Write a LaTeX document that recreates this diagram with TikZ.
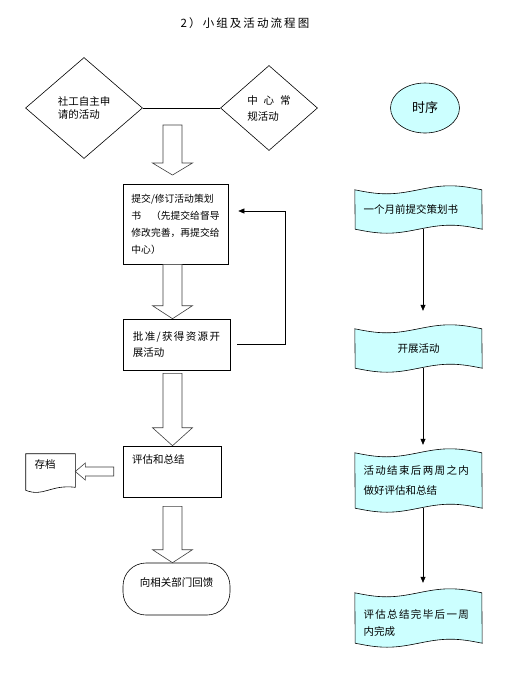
\documentclass[tikz,border=0pt]{standalone}
\usepackage{fontspec}
\setmainfont{Noto Sans CJK SC}
\newfontfamily\spacedfont[LetterSpace=13]{Noto Sans CJK SC}
\newfontfamily\titlefont[LetterSpace=18]{Noto Sans CJK SC}
\usepackage{tikz}
\usetikzlibrary{shapes.geometric,arrows.meta,positioning,calc,backgrounds}
\definecolor{tapecyan}{RGB}{204,255,255}

\tikzset{
    box/.style={draw, line width=0.6pt, inner sep=0pt, align=left,
        font=\fontsize{10.5}{16}\selectfont},
    choice/.style={draw, diamond, line width=0.6pt, inner sep=0pt, align=left},
    tapebox/.style={inner sep=0pt, minimum width=127pt,
        font=\fontsize{10.5}{17}\selectfont},
    tapeline/.style={draw, fill=tapecyan, line width=0.6pt},
    blockline/.style={draw=black!75, line width=0.6pt, fill=white},
    timearrow/.style={-{Triangle[length=6pt,width=5pt]}, line width=0.6pt},
}

% hollow block arrow pointing down: start, tip, head length
\newcommand\downblock[3]{%
    \draw[blockline] let \p1=#1, \p2=#2 in
        (\x1-9.5pt,\y1) -- (\x1+9.5pt,\y1) -- (\x1+9.5pt,\y2+#3) -- (\x1+20pt,\y2+#3)
        -- (\x1,\y2) -- (\x1-20pt,\y2+#3) -- (\x1-9.5pt,\y2+#3) -- cycle;}
% hollow block arrow pointing left: start, tip
\newcommand\leftblock[2]{%
    \draw[blockline] let \p1=#1, \p2=#2 in
        (\x1,\y1+4.5pt) -- (\x2+10pt,\y1+4.5pt) -- (\x2+10pt,\y1+8.5pt) -- (\x2,\y1)
        -- (\x2+10pt,\y1-8.5pt) -- (\x2+10pt,\y1-4.5pt) -- (\x1,\y1-4.5pt) -- cycle;}
% punched tape outline round a node
\newcommand\tapeoutline[1]{%
    \path[tapeline] (#1.north west) sin ++(31.75,4) cos ++(31.75,-4) sin ++(31.75,-4) cos ++(31.75,4)
        -- (#1.south east) sin ++(-31.75,-4) cos ++(-31.75,4) sin ++(-31.75,4) cos ++(-31.75,-4)
        -- cycle;}

\begin{document}
\begin{tikzpicture}[x=1pt,y=-1pt]
            \useasboundingbox (0,0) rectangle (505,681);
            \node[font=\titlefont\fontsize{11.5}{14}\selectfont] (title) at (245,23) {2）小组及活动流程图};

            % left column
            \node[choice, minimum width=117pt, minimum height=101pt,
                font=\fontsize{10.5}{13}\selectfont] (apply) at (84,108) {社工自主申\\请的活动};
            \node[choice, minimum width=97pt, minimum height=85pt,
                font=\fontsize{10.5}{16}\selectfont] (routine) at (269,108) {中\hspace{3.5pt} 心\hspace{3.5pt} 常\\规活动};
            \draw[line width=0.6pt] (apply.east) -- (routine.west);

            \node[box, font=\fontsize{9.8}{17}\selectfont, minimum width=105pt, minimum height=80pt]
                (plan) at (175.5,224) {提交/修订活动策划\\书　（先提交给督导\\修改完善，再提交给\\中心）};
            \node[box, minimum width=107pt, minimum height=51pt]
                (approve) at (176.5,344.5) {{\spacedfont 批准/获得资源开}\\展活动};
            \node[box, minimum width=98pt, minimum height=51pt]
                (review) at (172,471.5) {\parbox[c][34pt][t]{80pt}{评估和总结}};
            \node[box, draw=none, minimum width=49pt, minimum height=33pt]
                (archive) at (50.5,470.5) {\parbox[c][22pt][t]{32pt}{存档}};
            \node[box, rounded corners=23pt, minimum width=107pt, minimum height=52pt]
                (feedback) at (176.5,589) {\parbox[c][22pt][t]{80pt}{\centering 向相关部门回馈}};

            \draw[line width=0.6pt]
                (archive.north west) -- (archive.north east) -- (archive.south east)
                .. controls +(-25,-3) and +(18,7) .. ([yshift=-3pt]archive.south west) -- cycle
            ;

            \coordinate (gaptop) at (172.5,125);
            \coordinate (gaptip) at (172.5,175);
            \downblock{(gaptop)}{(gaptip)}{12pt}
            \downblock{([xshift=-3pt]plan.south)}{(approve.north)}{13pt}
            \downblock{([xshift=-4pt,yshift=-3pt]approve.south)}{(review.north)}{18pt}
            \downblock{([xshift=0.5pt,yshift=-9pt]review.south)}{(feedback.north)}{13pt}
            \leftblock{([xshift=-9pt]review.west)}{(archive.east)}

            \draw[timearrow]
                ([xshift=7pt]approve.east) -- ++(48,0) |- ([xshift=10pt,yshift=13pt]plan.east)
            ;

            % right column: time order
            \node[ellipse, draw, fill=tapecyan, line width=0.6pt, minimum width=69pt, minimum height=50pt,
                inner sep=0pt, font=\fontsize{13}{15}\selectfont] (order) at (425,108) {时序};
            \node[tapebox, minimum height=39pt] (month) at (418.5,209.5) {\parbox{110pt}{一个月前提交策划书}};
            \node[tapebox, minimum height=39pt] (run) at (418.5,348.5) {\parbox{110pt}{\centering 开展活动}};
            \node[tapebox, minimum height=55pt, font=\fontsize{10.5}{20}\selectfont]
                (twoweeks) at (418.5,480.5) {\parbox{110pt}{{\spacedfont 活动结束后两周之内}\\做好评估和总结}};
            \node[tapebox, minimum height=50pt]
                (oneweek) at (418.5,618) {\parbox[c][36pt][b]{110pt}{{\spacedfont 评估总结完毕后一周}\\内完成}};

            \begin{scope}[on background layer]
                \fill[white] (0,0) rectangle (505,681);
                \tapeoutline{month}
                \tapeoutline{run}
                \tapeoutline{twoweeks}
                \tapeoutline{oneweek}
            \end{scope}

            \draw[timearrow, shorten >=18pt] ([xshift=4.5pt]month.south) -- ([xshift=4.5pt]run.north);
            \draw[timearrow, shorten >=8pt] ([xshift=4.5pt]run.south) -- ([xshift=4.5pt]twoweeks.north);
            \draw[timearrow, shorten >=10pt] ([xshift=4.5pt]twoweeks.south) -- ([xshift=4.5pt]oneweek.north);
\end{tikzpicture}
\end{document}
